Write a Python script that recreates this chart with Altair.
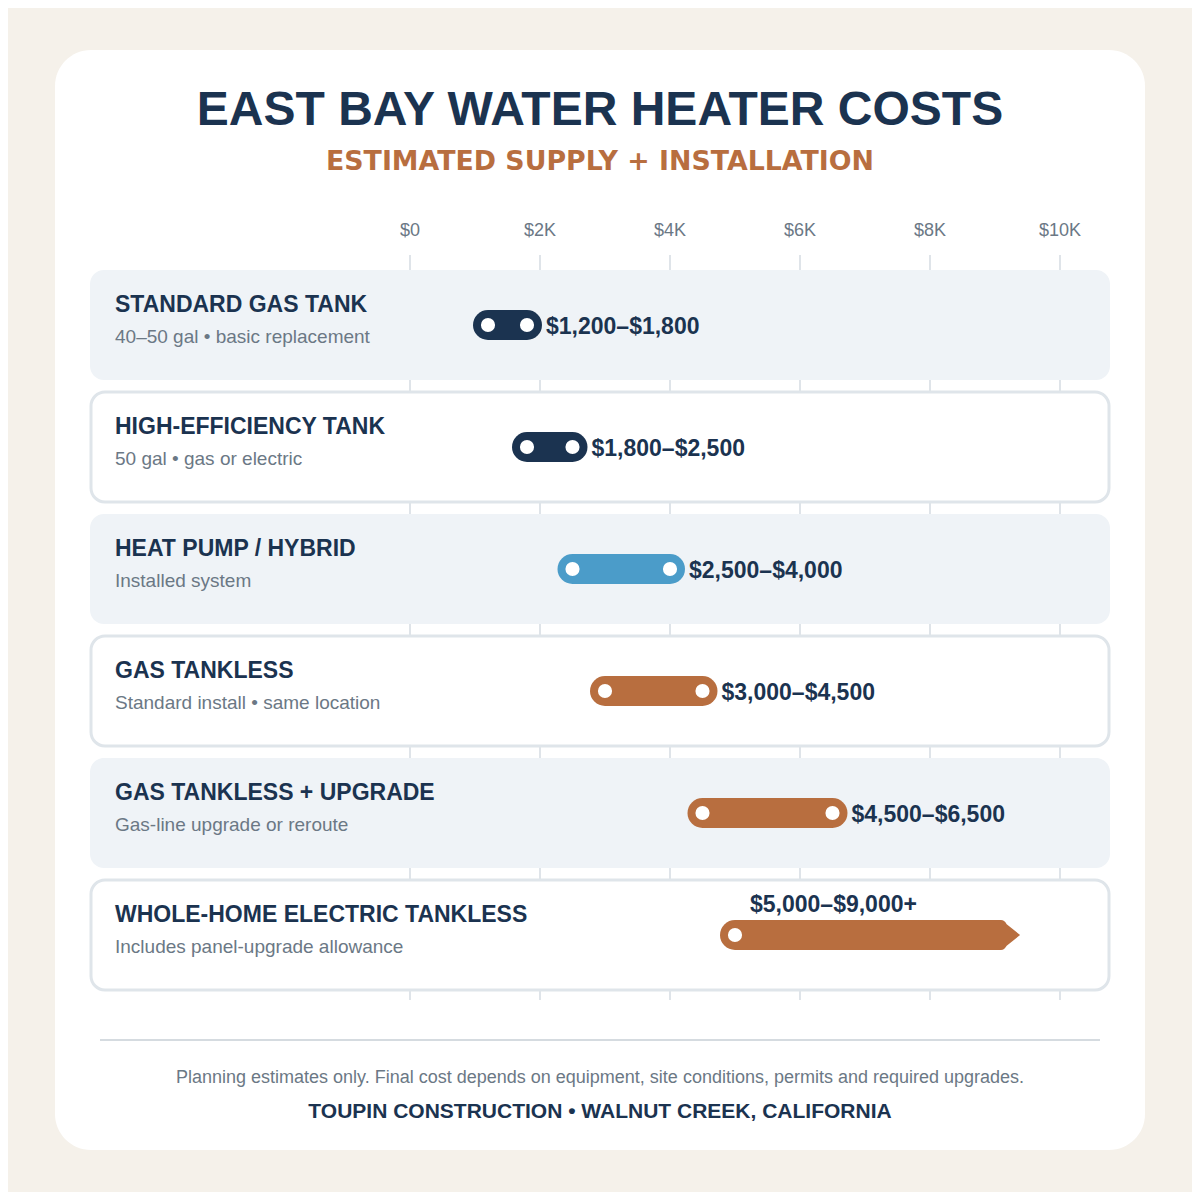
import altair as alt
import pandas as pd

# ---------------- data ----------------
categories = ["STANDARD GAS TANK", "HIGH-EFFICIENCY TANK", "HEAT PUMP / HYBRID",
              "GAS TANKLESS", "GAS TANKLESS + UPGRADE", "WHOLE-HOME ELECTRIC TANKLESS"]
descriptions = ["40–50 gal • basic replacement", "50 gal • gas or electric",
                "Installed system", "Standard install • same location",
                "Gas-line upgrade or reroute", "Includes panel-upgrade allowance"]
low_costs = [1200, 1800, 2500, 3000, 4500, 5000]
high_costs = [1800, 2500, 4000, 4500, 6500, 9000]
open_ended = [False, False, False, False, False, True]
groups = ["tank", "tank", "heatpump", "tankless", "tankless", "tankless"]
tick_values = [0, 2000, 4000, 6000, 8000, 10000]
tick_labels = ["$0", "$2K", "$4K", "$6K", "$8K", "$10K"]

TITLE = "EAST BAY WATER HEATER COSTS"
SUBTITLE = "ESTIMATED SUPPLY + INSTALLATION"
NOTE = "Planning estimates only. Final cost depends on equipment, site conditions, permits and required upgrades."
CREDIT = "TOUPIN CONSTRUCTION • WALNUT CREEK, CALIFORNIA"

# ---------------- styles ----------------
NAVY = "#1b3350"
BLUE = "#4b9cc9"
COPPER = "#b86e3f"
GRAY = "#6b7885"
BG = "#f5f1ea"
ROW_FILL = "#eff3f7"
ROW_STROKE = "#dfe5ea"
GRID = "#dfe4e9"
FONT = "Liberation Sans"
group_color = {"tank": NAVY, "heatpump": BLUE, "tankless": COPPER}

OFF = 8  # page margin
W = H = 1184


def px(v):
    return v - OFF


xscale = alt.Scale(domain=[0, 10000], range=[px(410), px(1060)], nice=False, zero=False)
yscale = alt.Scale(domain=categories, range=[px(270), px(990)],
                   paddingInner=12 / 122, paddingOuter=0)

rows = pd.DataFrame({
    "cat": categories,
    "desc": descriptions,
    "lo": low_costs,
    "hi": high_costs,
    "open": open_ended,
    "color": [group_color[g] for g in groups],
    "idx": list(range(len(categories))),
})
rows["label"] = [f"${lo:,}–${hi:,}" + ("+" if op else "")
                 for lo, hi, op in zip(low_costs, high_costs, open_ended)]

dots = []
for c, lo, hi, op in zip(categories, low_costs, high_costs, open_ended):
    dots.append({"cat": c, "v": lo})
    if not op:
        dots.append({"cat": c, "v": hi})
dots = pd.DataFrame(dots)

ticks = pd.DataFrame({"v": tick_values, "t": tick_labels})
one = pd.DataFrame({"a": [0]})

Y = alt.Y("cat:N", scale=yscale, axis=None)


def txt(s, x, y, size, color, weight="normal", align="center", font=FONT):
    return alt.Chart(one).mark_text(
        text=s, fontSize=size, fontWeight=weight, color=color, align=align,
        baseline="alphabetic", font=font
    ).encode(x=alt.value(px(x)), y=alt.value(px(y)))


card = alt.Chart(one).mark_rect(cornerRadius=36, fill="white").encode(
    x=alt.value(px(55)), x2=alt.value(px(1145)), y=alt.value(px(50)), y2=alt.value(px(1150))
)

grid = alt.Chart(ticks).mark_rule(stroke=GRID, strokeWidth=2).encode(
    x=alt.X("v:Q", scale=xscale, axis=None), y=alt.value(px(255)), y2=alt.value(px(1000))
)
tick_text = alt.Chart(ticks).mark_text(
    fontSize=18, color=GRAY, font=FONT, align="center", baseline="alphabetic"
).encode(x=alt.X("v:Q", scale=xscale, axis=None), y=alt.value(px(236)), text="t:N")

odd_rows = alt.Chart(rows).transform_filter("datum.idx % 2 == 0").mark_rect(
    cornerRadius=14, fill=ROW_FILL
).encode(x=alt.value(px(90)), x2=alt.value(px(1110)), y=Y)

even_rows = alt.Chart(rows).transform_filter("datum.idx % 2 == 1").mark_rect(
    cornerRadius=14, fill="white", stroke=ROW_STROKE, strokeWidth=3
).encode(x=alt.value(px(91)), x2=alt.value(px(1109)), y=Y)

bars = alt.Chart(rows).mark_rule(strokeWidth=30, strokeCap="round").encode(
    x=alt.X("lo:Q", scale=xscale, axis=None), x2="hi:Q", y=Y,
    stroke=alt.Stroke("color:N", scale=None)
)

ARROW = "M0,-1 L0.4,-1 Q0.62,-1 0.78,-0.72 L1.67,0 L0.78,0.72 Q0.62,1 0.4,1 L0,1 Z"
arrows = alt.Chart(rows).transform_filter("datum.open").mark_point(
    shape=ARROW, size=900, filled=True, opacity=1, strokeWidth=0
).encode(
    x=alt.X("hi:Q", scale=xscale, axis=None), y=Y,
    fill=alt.Fill("color:N", scale=None)
)

dot_layer = alt.Chart(dots).mark_circle(size=200, color="white", opacity=1).encode(
    x=alt.X("v:Q", scale=xscale, axis=None), y=Y
)

labels_closed = alt.Chart(rows).transform_filter("!datum.open").mark_text(
    align="left", baseline="alphabetic", dx=19, dy=9, fontSize=23, fontWeight="bold",
    color=NAVY, font=FONT
).encode(x=alt.X("hi:Q", scale=xscale, axis=None), y=Y, text="label:N")

labels_open = alt.Chart(rows).transform_filter("datum.open").mark_text(
    align="left", baseline="alphabetic", dx=15, dy=-23, fontSize=23, fontWeight="bold",
    color=NAVY, font=FONT
).encode(x=alt.X("lo:Q", scale=xscale, axis=None), y=Y, text="label:N")

row_titles = alt.Chart(rows).mark_text(
    align="left", baseline="alphabetic", dy=-13, fontSize=23, fontWeight="bold",
    color=NAVY, font=FONT
).encode(x=alt.value(px(115)), y=Y, text="cat:N")

row_desc = alt.Chart(rows).mark_text(
    align="left", baseline="alphabetic", dy=18, fontSize=19, color=GRAY, font=FONT
).encode(x=alt.value(px(115)), y=Y, text="desc:N")

footer_rule = alt.Chart(one).mark_rule(stroke="#d5dbe0", strokeWidth=2).encode(
    x=alt.value(px(100)), x2=alt.value(px(1100)), y=alt.value(px(1040))
)

chart = alt.layer(
    card,
    grid,
    tick_text,
    odd_rows,
    even_rows,
    bars,
    arrows,
    dot_layer,
    labels_closed,
    labels_open,
    row_titles,
    row_desc,
    txt(TITLE, 600, 125, 48, NAVY, "bold"),
    txt(SUBTITLE, 600, 170, 26.8, COPPER, "bold", font="DejaVu Sans"),
    footer_rule,
    txt(NOTE, 600, 1083, 18, GRAY),
    txt(CREDIT, 600, 1118, 21, NAVY, "bold"),
).properties(
    width=W, height=H, background=BG, padding=0,
    autosize=alt.AutoSizeParams(type="none")
).configure_view(stroke=None)

chart.save("out.html", embed_options={"renderer": "svg", "actions": False})
